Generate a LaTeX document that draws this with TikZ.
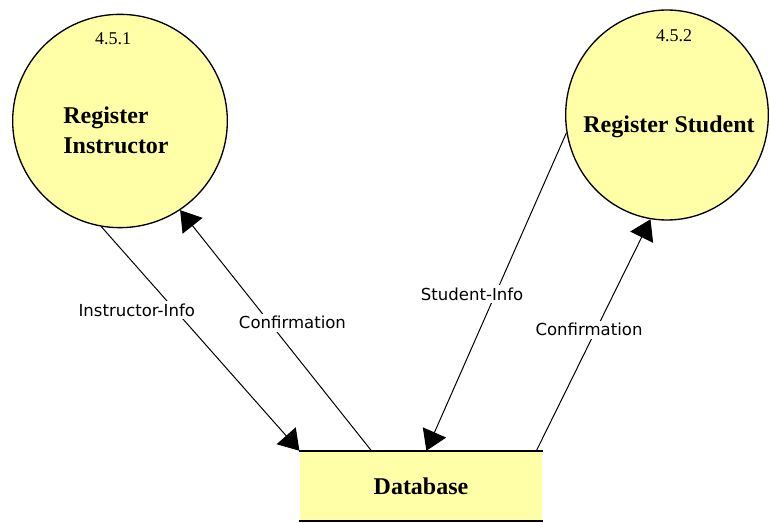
\documentclass[tikz,border=0pt]{standalone}
\usepackage{fontspec}
\setmainfont{Liberation Serif}
\newfontfamily\flowfont{DejaVu Sans}
\usepackage{xcolor}
\usepackage{tikz}
\usetikzlibrary{arrows.meta,positioning,calc,shapes.geometric}
\definecolor{bubble}{HTML}{FFFFA8}

\begin{document}
\begin{tikzpicture}[x=0.75pt,y=-0.75pt,
    proc/.style={ellipse,draw,line width=1pt,fill=bubble,inner sep=0pt},
    procname/.style={font=\fontsize{18}{22.5}\selectfont\bfseries,align=left},
    procnum/.style={font=\fontsize{13.5}{16}\selectfont},
    store/.style={rectangle,fill=bubble,minimum width=182pt,minimum height=52.5pt,
      font=\fontsize{18}{22}\selectfont\bfseries},
    flow/.style={line width=0.75pt,-{Triangle[length=15pt,width=19pt]}},
    flowlbl/.style={font=\flowfont\fontsize{12.4}{14}\selectfont,fill=white,inner sep=2pt}]
    \useasboundingbox (0,0) rectangle (770,523);
    % processes
    \node[proc,minimum width=161pt,minimum height=160pt] (instr) at (120,121) {};
    \node[procnum] (instr-num) at (113,39) {4.5.1};
    \node[procname] (instr-name) at (116,130) {Register\\Instructor};
    \node[proc,minimum width=152pt,minimum height=157.5pt] (stud) at (667,115) {};
    \node[procnum] (stud-num) at (674,36) {4.5.2};
    \node[procname] (stud-name) at (669,127) {Register Student};
    % data store
    \node[store] (db) at (421,486) {Database};
    \draw[line width=1.2pt] (db.north west) -- (db.north east) (db.south west) -- (db.south east);
    % flows
    \draw[flow] (instr.260) -- node[flowlbl,pos=0.372,xshift=-28.7pt]{Instructor-Info} (db.north west);
    \draw[flow] ($(db.north west)+(72,0)$) -- node[flowlbl,pos=0.532,xshift=17.1pt]{Confirmation} (instr.304);
    \draw[flow] (stud.190) -- node[flowlbl,pos=0.508,xshift=-17.4pt]{Student-Info} ($(db.north west)+(127,0)$);
    \draw[flow] ($(db.north west)+(237,0)$) -- node[flowlbl,pos=0.523,xshift=-5.3pt]{Confirmation} (stud.261);
  \end{tikzpicture}
\end{document}
